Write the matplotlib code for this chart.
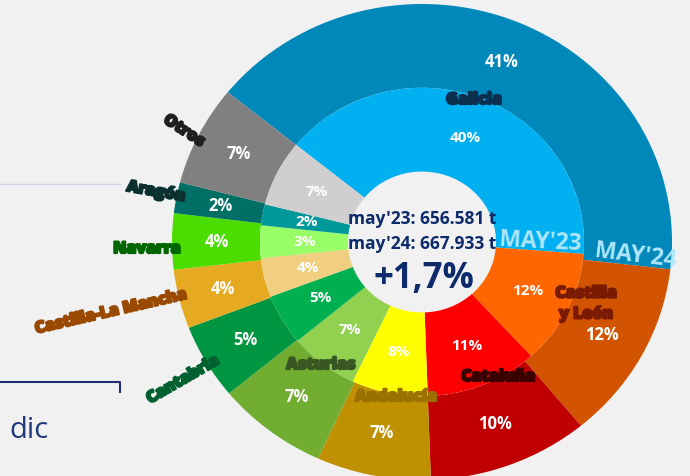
import matplotlib
matplotlib.use("Agg")
import matplotlib.pyplot as plt
import matplotlib.patheffects as pe

# cuota por comunidad (%), mayo'24 (anillo exterior) y mayo'23 (anillo interior)
regiones = ["Galicia", "Castilla\ny León", "Cataluña", "Andalucía", "Asturias",
            "Cantabria", "Castilla-La Mancha", "Navarra", "Aragón", "Otros"]
cuota_may24 = [41.0, 12.2, 10.4, 7.4, 7.2, 5.1, 4.0, 3.8, 2.1, 6.8]
cuota_may23 = [40.4, 12.0, 11.2, 7.6, 6.9, 5.3, 4.1, 3.4, 2.2, 6.9]

colores_may24 = ["#0088bb", "#d35400", "#c00000", "#bf9000", "#70ad31",
                 "#009540", "#e6aa22", "#4cdd00", "#006f66", "#808080"]
colores_may23 = ["#00b0f0", "#ff6600", "#ff0000", "#ffff00", "#92d050",
                 "#00b050", "#f0d080", "#99ff66", "#009999", "#d0cece"]
colores_texto = ["#0d2f4f", "#7a1a00", "#3a0000", "#9a7000", "#385723",
                 "#006030", "#9a4a00", "#006600", "#0a3030", "#202020"]

total_may23 = "656.581 t"
total_may24 = "667.933 t"
variacion = "+1,7%"

# posición (px de la imagen) y giro de los nombres
pos_nombres = [(474, 100, 0), (586, 304, 0), (498, 377, 0), (396, 397, 0), (321, 365, 0),
               (183, 380, 30), (111, 312, 13), (147, 249, 0), (156, 192, -10), (184, 131, -33)]

CX, CY, RX, RY = 422, 242, 250, 238


def px(x, y):
    return (x - CX) / RX, (CY - y) / RY


fam = ["Open Sans", "DejaVu Sans"]
navy = "#0d2a6b"

fig = plt.figure(figsize=(6.9, 4.76), dpi=100)
fig.patch.set_facecolor("#f1f1f1")
ax = fig.add_axes([0, 0, 1, 1])
ax.set_facecolor("#f1f1f1")

pct = lambda p: f"{p:.0f}%"
ax.pie(cuota_may24, radius=1, colors=colores_may24, startangle=141, counterclock=False,
       wedgeprops=dict(width=0.352, linewidth=0), autopct=pct, pctdistance=0.82,
       textprops=dict(color="white", fontsize=12, fontweight="bold", family=fam))
ax.pie(cuota_may23, radius=0.648, colors=colores_may23, startangle=141, counterclock=False,
       wedgeprops=dict(width=0.352, linewidth=0), autopct=pct, pctdistance=0.725,
       textprops=dict(color="white", fontsize=11, fontweight="bold", family=fam))
ax.set_aspect("auto")
ax.set_xlim(px(0, 0)[0], px(690, 0)[0])
ax.set_ylim(px(0, 476)[1], px(0, 0)[1])
ax.axis("off")

for nombre, c, (x, y, rot) in zip(regiones, colores_texto, pos_nombres):
    ax.text(*px(x, y), nombre, color=c, fontsize=11.5, fontweight="heavy", family=fam,
            rotation=rot, ha="center", va="center", linespacing=1.4,
            path_effects=[pe.withStroke(linewidth=1.6, foreground=c)])

# textos del centro
ax.text(*px(422, 219), "may'23: " + total_may23, color=navy, fontsize=12.5,
        fontweight="bold", family=fam, ha="center", va="center")
ax.text(*px(422, 244), "may'24: " + total_may24, color=navy, fontsize=12.5,
        fontweight="bold", family=fam, ha="center", va="center")
ax.text(*px(424, 279), variacion, color=navy, fontsize=25,
        fontweight="bold", family=fam, ha="center", va="center")

ax.text(*px(540, 242), "MAY'23", color="#aee6fb", fontsize=16.5, fontweight="bold",
        family=fam, ha="center", va="center", rotation=-3)
ax.text(*px(636, 256), "MAY'24", color="#aee6fb", fontsize=16.5, fontweight="bold",
        family=fam, ha="center", va="center", rotation=-7)

# adornos de la izquierda
ax.plot([px(0, 184)[0], px(120, 184)[0]], [px(0, 184)[1]] * 2, color="#ccd4e4", lw=1)
ax.plot([px(0, 382)[0], px(120, 382)[0], px(120, 392)[0]],
        [px(0, 382)[1], px(120, 382)[1], px(120, 392)[1]], color="#1f3070", lw=1.5)
ax.text(*px(9, 430), "dic", color="#1f3a7a", fontsize=21, family=fam,
        ha="left", va="center")

fig.savefig("out.png", dpi=100, facecolor=fig.get_facecolor())
